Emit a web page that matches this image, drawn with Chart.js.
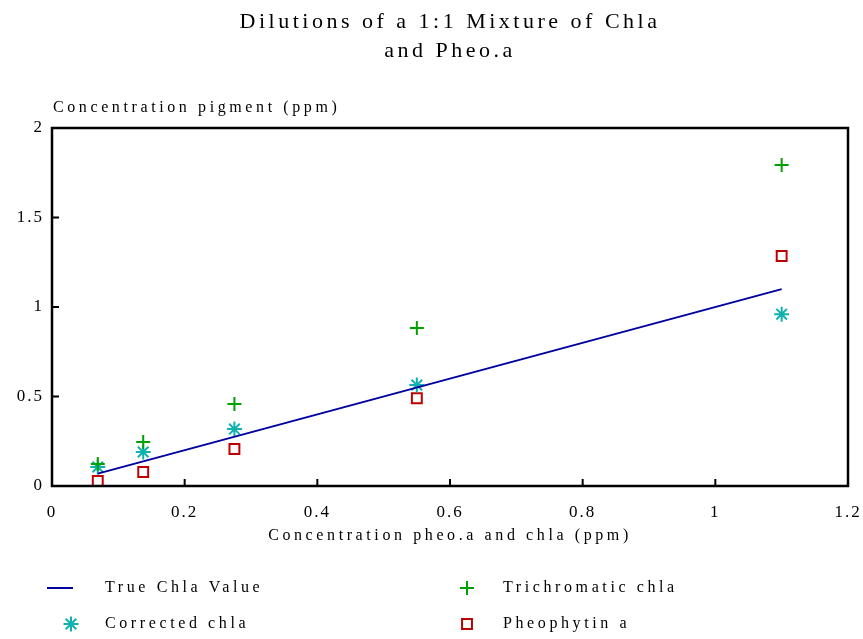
<!DOCTYPE html>
<html>
<head>
<meta charset="utf-8">
<script src="https://cdn.jsdelivr.net/npm/chart.js@4.4.1/dist/chart.umd.min.js"></script>
<style>
  html, body { margin: 0; padding: 0; background: #fff; }
  #wrap { width: 863px; height: 639px; }
</style>
</head>
<body>
<div id="wrap"><canvas id="chart" width="863" height="639"></canvas></div>
<script>
// dilution concentrations (ppm)
const dilutions = [0.069, 0.1375, 0.275, 0.55, 1.1];
const trueChla = [0.069, 1.1];
const trueChlaX = [0.069, 1.1];
const trichromatic = [0.123, 0.246, 0.458, 0.883, 1.793];
const corrected = [0.106, 0.19, 0.318, 0.564, 0.96];
const pheophytin = [0.028, 0.078, 0.207, 0.49, 1.285];
const xTicks = [0, 0.2, 0.4, 0.6, 0.8, 1, 1.2];
const yTicks = [0, 0.5, 1, 1.5, 2];

const titleLines = ['Dilutions of a 1:1 Mixture of Chla', 'and Pheo.a'];
const yTitle = 'Concentration pigment (ppm)';
const xTitle = 'Concentration pheo.a and chla (ppm)';

const FONT = "'Liberation Serif', serif";

function pts(xs, ys) {
  return xs.map((x, i) => ({ x: x, y: ys[i] }));
}

function noPad(s) {
  s.paddingLeft = 0;
  s.paddingRight = 0;
  s.paddingTop = 0;
  s.paddingBottom = 0;
}

// frame, inward ticks, titles and legend
const decorPlugin = {
  id: 'decor',
  beforeDraw(chart) {
    chart.ctx.letterSpacing = '2px';
  },
  afterDraw(chart) {
    const ctx = chart.ctx;
    const a = chart.chartArea;
    const xs = chart.scales.x, ys = chart.scales.y;
    ctx.save();
    ctx.strokeStyle = '#000';
    ctx.lineWidth = 2.5;
    ctx.strokeRect(a.left, a.top, a.right - a.left, a.bottom - a.top);
    ctx.lineWidth = 2;
    ctx.beginPath();
    xTicks.forEach(v => {
      const px = xs.getPixelForValue(v);
      ctx.moveTo(px, a.bottom);
      ctx.lineTo(px, a.bottom - 7);
    });
    yTicks.forEach(v => {
      const py = ys.getPixelForValue(v);
      ctx.moveTo(a.left, py);
      ctx.lineTo(a.left + 7, py);
    });
    ctx.stroke();

    ctx.fillStyle = '#000';
    ctx.letterSpacing = '3.5px';
    ctx.font = "22px " + FONT;
    ctx.textAlign = 'center';
    ctx.textBaseline = 'alphabetic';
    const cx = (a.left + a.right) / 2;
    ctx.fillText(titleLines[0], cx, 28);
    ctx.fillText(titleLines[1], cx, 57);

    ctx.font = "16px " + FONT;
    ctx.letterSpacing = '3.6px';
    ctx.textAlign = 'left';
    ctx.fillText(yTitle, 53, 112);
    ctx.textAlign = 'center';
    ctx.fillText(xTitle, cx, 540);

    // legend
    const items = [
      { ds: 0, x: 47, y: 588 },
      { ds: 1, x: 467, y: 588 },
      { ds: 2, x: 71, y: 624 },
      { ds: 3, x: 467, y: 624 }
    ];
    ctx.textAlign = 'left';
    ctx.textBaseline = 'middle';
    items.forEach(it => {
      const d = chart.data.datasets[it.ds];
      ctx.strokeStyle = d.borderColor;
      ctx.fillStyle = d.backgroundColor || d.borderColor;
      ctx.lineWidth = d.borderWidth;
      if (it.ds === 0) {
        ctx.beginPath();
        ctx.moveTo(it.x, it.y);
        ctx.lineTo(it.x + 26, it.y);
        ctx.stroke();
      } else {
        Chart.helpers.drawPoint(ctx, {
          pointStyle: d.pointStyle,
          radius: d.pointRadius,
          rotation: 0,
          borderWidth: d.borderWidth
        }, it.x, it.y);
      }
      ctx.fillStyle = '#000';
      const tx = it.ds === 0 || it.ds === 2 ? 105 : 503;
      ctx.fillText(d.label, tx, it.y);
    });
    ctx.restore();
  }
};

new Chart(document.getElementById('chart'), {
  type: 'scatter',
  data: {
    datasets: [
      {
        label: 'True Chla Value',
        data: pts(trueChlaX, trueChla),
        showLine: true,
        borderColor: '#0000a0',
        backgroundColor: '#0000a0',
        borderWidth: 2,
        pointRadius: 0
      },
      {
        label: 'Trichromatic chla',
        data: pts(dilutions, trichromatic),
        pointStyle: 'cross',
        pointRadius: 7,
        borderColor: '#00a000',
        backgroundColor: '#00a000',
        borderWidth: 2
      },
      {
        label: 'Corrected chla',
        data: pts(dilutions, corrected),
        pointStyle: 'star',
        pointRadius: 7.5,
        borderColor: '#10b0b0',
        backgroundColor: '#10b0b0',
        borderWidth: 2
      },
      {
        label: 'Pheophytin a',
        data: pts(dilutions, pheophytin),
        pointStyle: 'rect',
        pointRadius: 7,
        borderColor: '#c00000',
        backgroundColor: 'rgba(0,0,0,0)',
        borderWidth: 2
      }
    ]
  },
  options: {
    responsive: false,
    animation: false,
    layout: { padding: { top: 128, right: 15, bottom: 83, left: 0 } },
    plugins: {
      legend: { display: false },
      title: { display: false },
      tooltip: { enabled: false }
    },
    scales: {
      x: {
        type: 'linear',
        min: 0,
        max: 1.2,
        afterBuildTicks: s => { s.ticks = xTicks.map(v => ({ value: v })); },
        afterFit: s => { s.height = 70; noPad(s); },
        grid: { display: false, drawTicks: false },
        border: { display: false },
        ticks: {
          padding: 16,
          color: '#000',
          font: { family: FONT, size: 17 },
          callback: v => String(v)
        }
      },
      y: {
        type: 'linear',
        min: 0,
        max: 2,
        afterBuildTicks: s => { s.ticks = yTicks.map(v => ({ value: v })); },
        afterFit: s => { s.width = 52; noPad(s); },
        grid: { display: false, drawTicks: false },
        border: { display: false },
        ticks: {
          padding: 8,
          color: '#000',
          font: { family: FONT, size: 17 },
          callback: v => String(v)
        }
      }
    }
  },
  plugins: [decorPlugin]
});
</script>
</body>
</html>
